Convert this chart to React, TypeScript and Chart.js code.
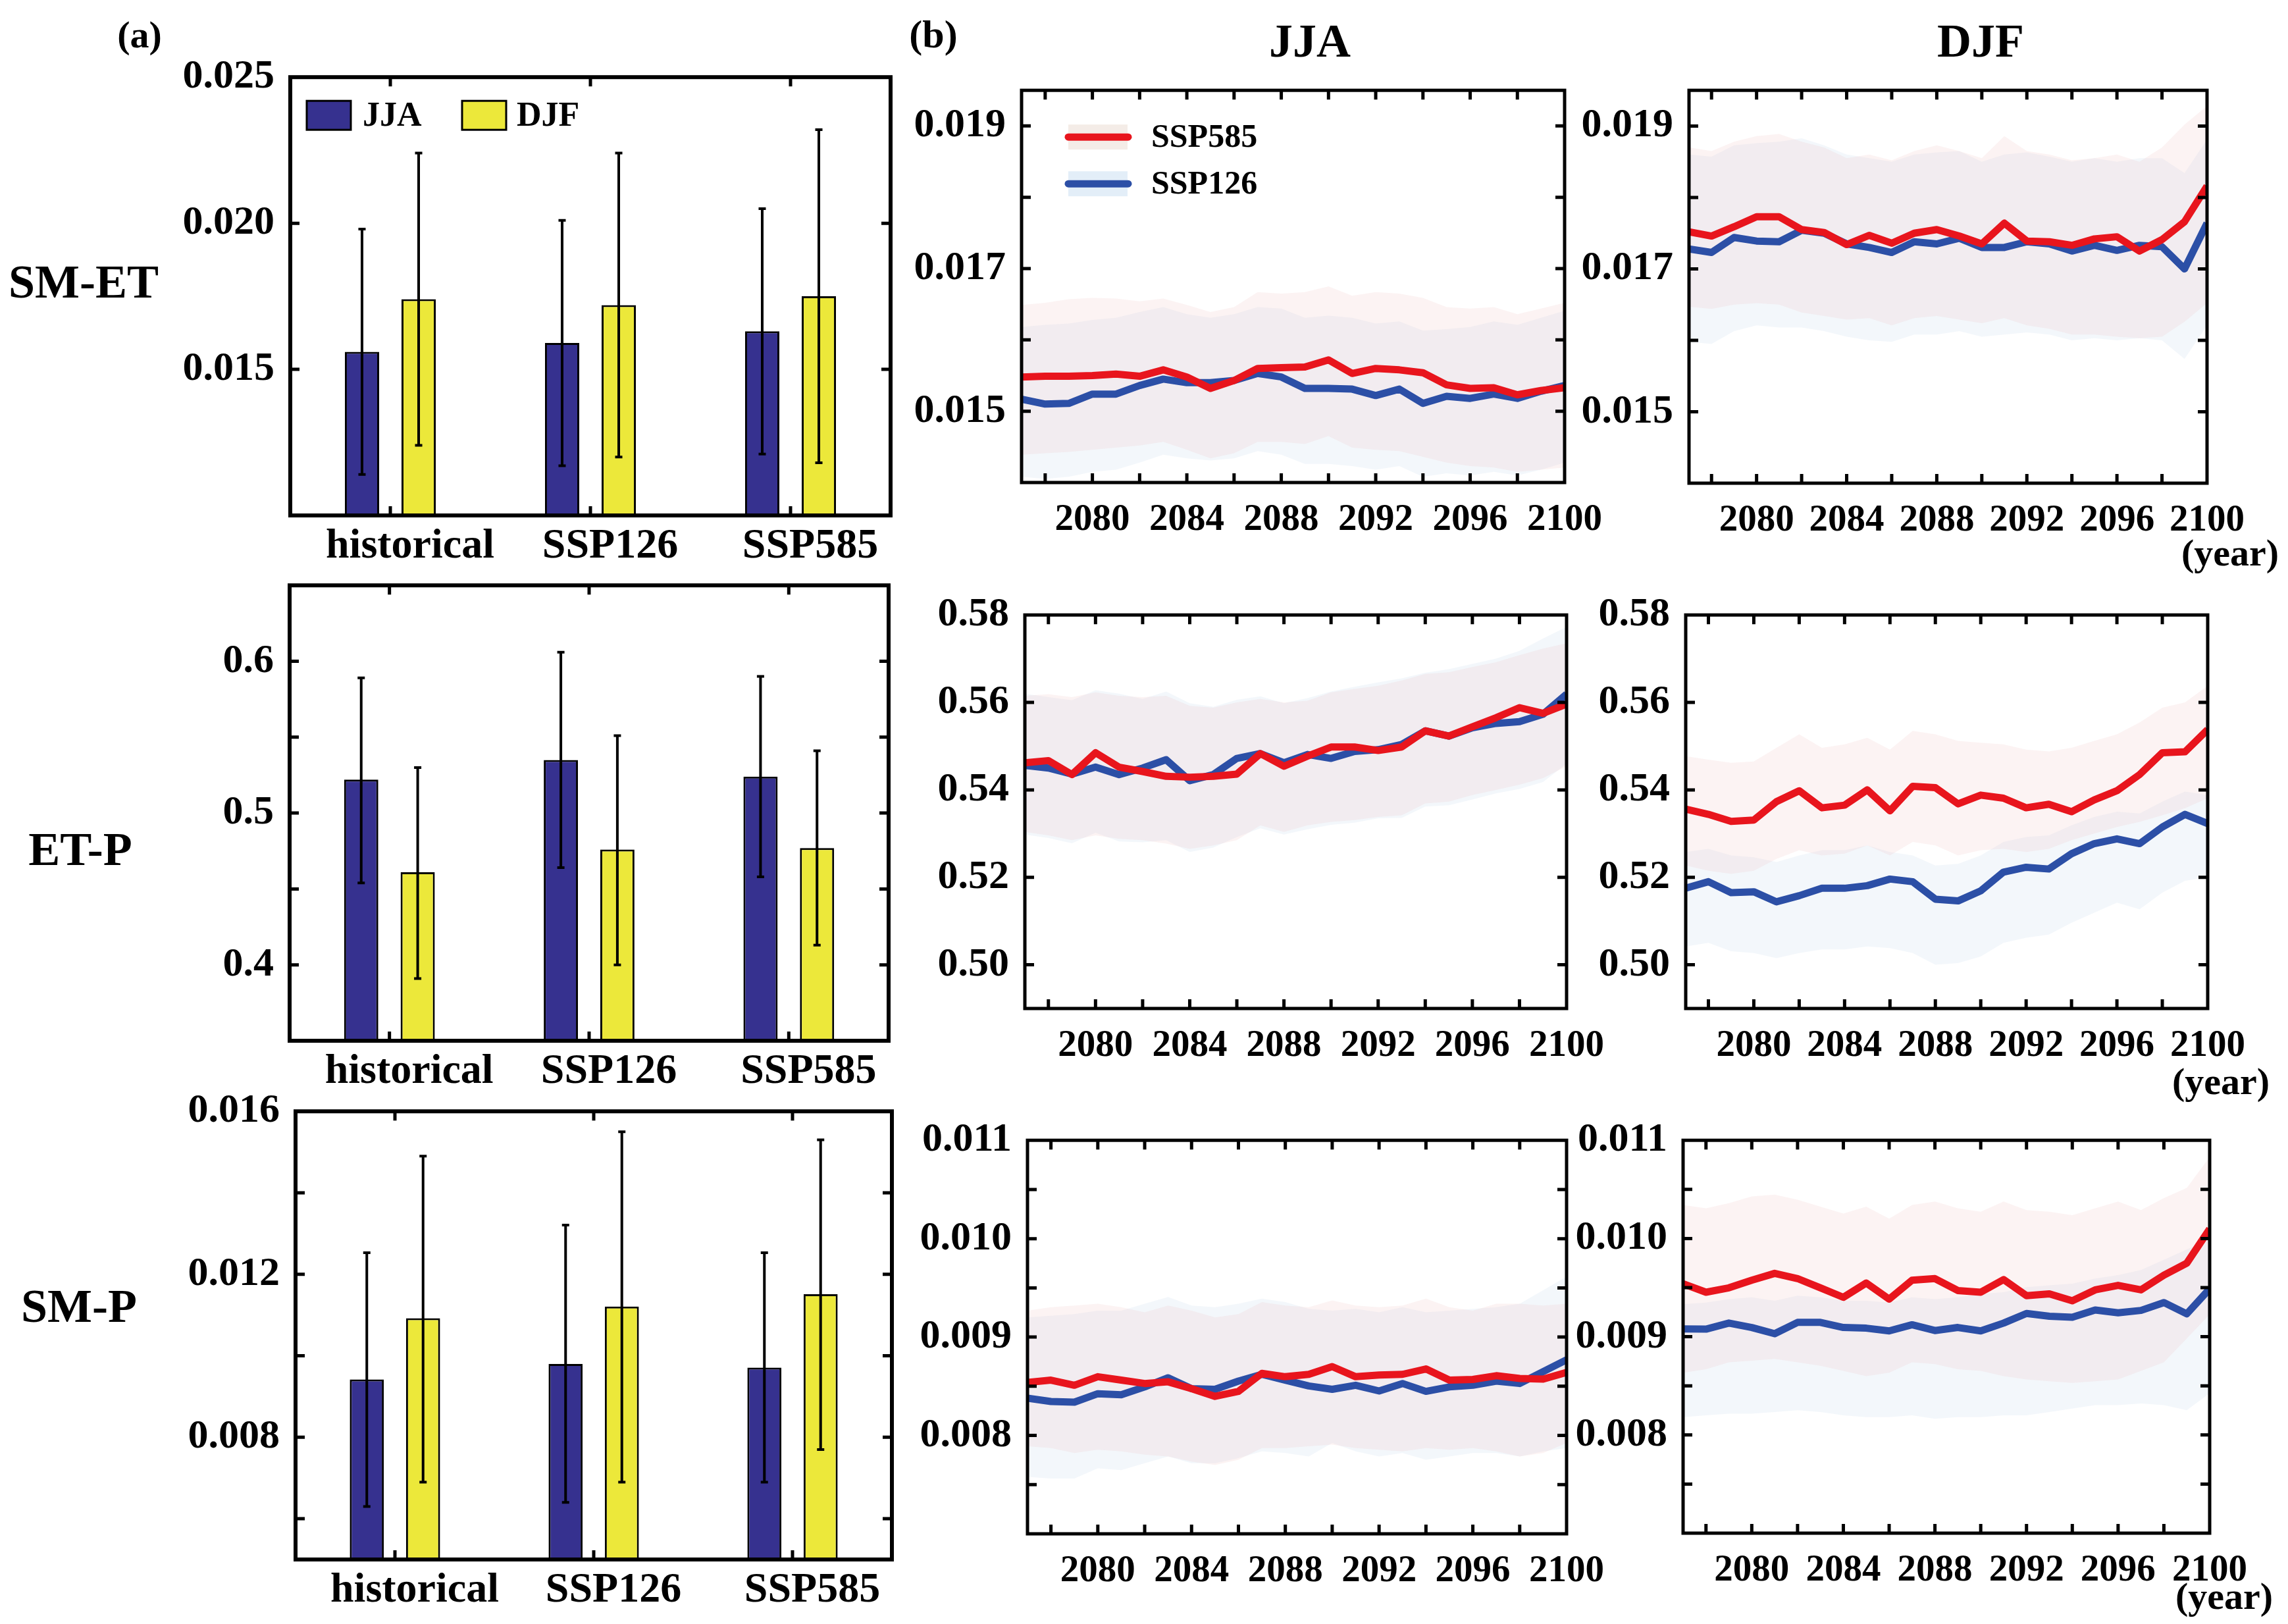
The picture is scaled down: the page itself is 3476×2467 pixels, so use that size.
import React, { useEffect, useRef } from 'react';
import { Chart, registerables } from 'chart.js';

Chart.register(...registerables);

const FONT = "'Liberation Serif', 'Times New Roman', Times, serif";
const AXW = 300;
const PT = 60;
const PR = 110;
const AXH = 130;

// ---------------- Data: panel (a) ----------------
const CATEGORIES = ['historical', 'SSP126', 'SSP585'];

const SMET_JJA = [0.0156, 0.0159, 0.0163];
const SMET_DJF = [0.0174, 0.0172, 0.0175];
const SMET_JJA_LOW = [0.0114, 0.0117, 0.0121];
const SMET_JJA_HIGH = [0.0198, 0.0201, 0.0205];
const SMET_DJF_LOW = [0.0124, 0.0120, 0.0118];
const SMET_DJF_HIGH = [0.0224, 0.0224, 0.0232];

const ETP_JJA = [0.522, 0.535, 0.524];
const ETP_DJF = [0.461, 0.476, 0.477];
const ETP_JJA_LOW = [0.454, 0.464, 0.458];
const ETP_JJA_HIGH = [0.589, 0.606, 0.590];
const ETP_DJF_LOW = [0.391, 0.400, 0.413];
const ETP_DJF_HIGH = [0.530, 0.551, 0.541];

const SMP_JJA = [0.00942, 0.0098, 0.00971];
const SMP_DJF = [0.01092, 0.01121, 0.01151];
const SMP_JJA_LOW = [0.0063, 0.0064, 0.0069];
const SMP_JJA_HIGH = [0.01253, 0.01321, 0.01253];
const SMP_DJF_LOW = [0.0069, 0.0069, 0.0077];
const SMP_DJF_HIGH = [0.0149, 0.0155, 0.0153];

// ---------------- Data: panel (b) ----------------
const YEARS = [2077, 2078, 2079, 2080, 2081, 2082, 2083, 2084, 2085, 2086, 2087, 2088,
  2089, 2090, 2091, 2092, 2093, 2094, 2095, 2096, 2097, 2098, 2099, 2100];
const YEAR_TICKS = [2078, 2080, 2082, 2084, 2086, 2088, 2090, 2092, 2094, 2096, 2098, 2100];
const YEAR_LABELS = [2080, 2084, 2088, 2092, 2096, 2100];

// SM-ET, JJA
const SMET_JJA_585 = [0.01548, 0.01549, 0.01549, 0.01550, 0.01552, 0.01549, 0.01558, 0.01548, 0.01532, 0.01543, 0.01560, 0.01561, 0.01562, 0.01572, 0.01553, 0.01560, 0.01558, 0.01554, 0.01537, 0.01532, 0.01533, 0.01523, 0.01529, 0.01533];
const SMET_JJA_126 = [0.01517, 0.01510, 0.01511, 0.01524, 0.01524, 0.01536, 0.01545, 0.01540, 0.01540, 0.01543, 0.01553, 0.01548, 0.01532, 0.01532, 0.01531, 0.01522, 0.01531, 0.01511, 0.01521, 0.01518, 0.01524, 0.01518, 0.01528, 0.01536];
const SMET_JJA_585_UP = [0.01649, 0.01652, 0.01657, 0.01659, 0.01658, 0.01654, 0.01658, 0.01649, 0.01639, 0.01646, 0.01667, 0.01665, 0.01667, 0.01675, 0.01662, 0.01667, 0.01665, 0.01659, 0.01646, 0.01644, 0.01646, 0.01636, 0.01644, 0.01652];
const SMET_JJA_585_LO = [0.01439, 0.01441, 0.01443, 0.01446, 0.01449, 0.01452, 0.01457, 0.01446, 0.01434, 0.01441, 0.01457, 0.01457, 0.01454, 0.01465, 0.01449, 0.01446, 0.01444, 0.01436, 0.01428, 0.01423, 0.01421, 0.01415, 0.01418, 0.01421];
const SMET_JJA_126_UP = [0.01618, 0.01621, 0.01623, 0.01628, 0.01631, 0.01639, 0.01646, 0.01636, 0.01631, 0.01636, 0.01646, 0.01644, 0.01631, 0.01634, 0.01631, 0.01623, 0.01626, 0.01613, 0.01615, 0.01618, 0.01626, 0.01621, 0.01631, 0.01641];
const SMET_JJA_126_LO = [0.01408, 0.01405, 0.01408, 0.01415, 0.01418, 0.01428, 0.01439, 0.01434, 0.01431, 0.01434, 0.01444, 0.01439, 0.01426, 0.01426, 0.01423, 0.01418, 0.01423, 0.01408, 0.01413, 0.01410, 0.01415, 0.01410, 0.01418, 0.01428];

// SM-ET, DJF
const SMET_DJF_585 = [0.01752, 0.01746, 0.01759, 0.01773, 0.01773, 0.01755, 0.01751, 0.01734, 0.01747, 0.01736, 0.01750, 0.01755, 0.01746, 0.01735, 0.01764, 0.01739, 0.01738, 0.01733, 0.01742, 0.01745, 0.01725, 0.01741, 0.01766, 0.01816];
const SMET_DJF_126 = [0.01728, 0.01723, 0.01744, 0.01739, 0.01738, 0.01754, 0.01750, 0.01735, 0.01730, 0.01723, 0.01738, 0.01735, 0.01743, 0.01730, 0.01730, 0.01738, 0.01735, 0.01725, 0.01733, 0.01726, 0.01733, 0.01731, 0.01700, 0.01764];
const SMET_DJF_585_UP = [0.01870, 0.01865, 0.01878, 0.01886, 0.01889, 0.01878, 0.01870, 0.01855, 0.01860, 0.01852, 0.01865, 0.01873, 0.01865, 0.01855, 0.01886, 0.01865, 0.01860, 0.01852, 0.01855, 0.01860, 0.01850, 0.01870, 0.01902, 0.01928];
const SMET_DJF_585_LO = [0.01647, 0.01644, 0.01650, 0.01652, 0.01650, 0.01639, 0.01634, 0.01629, 0.01631, 0.01621, 0.01631, 0.01634, 0.01629, 0.01624, 0.01631, 0.01621, 0.01616, 0.01608, 0.01608, 0.01605, 0.01603, 0.01605, 0.01626, 0.01652];
const SMET_DJF_126_UP = [0.01860, 0.01857, 0.01873, 0.01876, 0.01878, 0.01883, 0.01873, 0.01860, 0.01855, 0.01850, 0.01860, 0.01863, 0.01865, 0.01850, 0.01860, 0.01863, 0.01857, 0.01850, 0.01855, 0.01850, 0.01855, 0.01855, 0.01834, 0.01881];
const SMET_DJF_126_LO = [0.01598, 0.01595, 0.01613, 0.01621, 0.01618, 0.01618, 0.01613, 0.01605, 0.01600, 0.01598, 0.01608, 0.01608, 0.01613, 0.01605, 0.01608, 0.01611, 0.01608, 0.01600, 0.01603, 0.01600, 0.01603, 0.01600, 0.01574, 0.01621];

// ET-P, JJA
const ETP_JJA_585 = [0.5462, 0.5467, 0.5435, 0.5485, 0.5452, 0.5442, 0.5431, 0.5429, 0.5431, 0.5436, 0.5483, 0.5454, 0.5477, 0.5498, 0.5498, 0.5490, 0.5498, 0.5535, 0.5523, 0.5544, 0.5565, 0.5588, 0.5575, 0.5596];
const ETP_JJA_126 = [0.5456, 0.5450, 0.5436, 0.5452, 0.5435, 0.5450, 0.5469, 0.5421, 0.5435, 0.5472, 0.5483, 0.5462, 0.5481, 0.5472, 0.5488, 0.5492, 0.5504, 0.5535, 0.5523, 0.5542, 0.5552, 0.5556, 0.5573, 0.5619];
const ETP_JJA_585_UP = [0.5615, 0.5619, 0.5612, 0.5623, 0.5615, 0.5612, 0.5615, 0.5592, 0.5588, 0.5600, 0.5608, 0.5600, 0.5604, 0.5623, 0.5631, 0.5638, 0.5650, 0.5665, 0.5669, 0.5681, 0.5692, 0.5708, 0.5723, 0.5735];
const ETP_JJA_585_LO = [0.5304, 0.5296, 0.5285, 0.5296, 0.5288, 0.5285, 0.5277, 0.5265, 0.5273, 0.5285, 0.5319, 0.5304, 0.5319, 0.5327, 0.5331, 0.5338, 0.5342, 0.5369, 0.5373, 0.5388, 0.5400, 0.5412, 0.5427, 0.5454];
const ETP_JJA_126_UP = [0.5620, 0.5612, 0.5605, 0.5628, 0.5620, 0.5608, 0.5625, 0.5598, 0.5590, 0.5606, 0.5614, 0.5598, 0.5610, 0.5625, 0.5636, 0.5646, 0.5655, 0.5668, 0.5676, 0.5688, 0.5700, 0.5718, 0.5746, 0.5773];
const ETP_JJA_126_LO = [0.5298, 0.5290, 0.5278, 0.5302, 0.5282, 0.5280, 0.5285, 0.5258, 0.5268, 0.5292, 0.5312, 0.5298, 0.5310, 0.5320, 0.5325, 0.5335, 0.5336, 0.5362, 0.5365, 0.5378, 0.5392, 0.5402, 0.5418, 0.5460];

// ET-P, DJF
const ETP_DJF_585 = [0.5356, 0.5344, 0.5328, 0.5331, 0.5373, 0.5398, 0.5359, 0.5365, 0.5400, 0.5352, 0.5408, 0.5405, 0.5368, 0.5388, 0.5381, 0.5359, 0.5367, 0.5350, 0.5377, 0.5398, 0.5435, 0.5485, 0.5487, 0.5538];
const ETP_DJF_126 = [0.5175, 0.5190, 0.5165, 0.5167, 0.5144, 0.5158, 0.5175, 0.5175, 0.5181, 0.5196, 0.5190, 0.5150, 0.5146, 0.5169, 0.5212, 0.5223, 0.5219, 0.5254, 0.5277, 0.5288, 0.5277, 0.5315, 0.5344, 0.5323];
const ETP_DJF_585_UP = [0.5477, 0.5469, 0.5462, 0.5465, 0.5496, 0.5527, 0.5496, 0.5504, 0.5519, 0.5492, 0.5535, 0.5527, 0.5512, 0.5508, 0.5504, 0.5492, 0.5488, 0.5496, 0.5512, 0.5527, 0.5554, 0.5588, 0.5600, 0.5638];
const ETP_DJF_585_LO = [0.5227, 0.5215, 0.5208, 0.5215, 0.5242, 0.5262, 0.5250, 0.5254, 0.5273, 0.5250, 0.5281, 0.5273, 0.5250, 0.5262, 0.5265, 0.5258, 0.5265, 0.5285, 0.5300, 0.5315, 0.5327, 0.5342, 0.5358, 0.5381];
const ETP_DJF_126_UP = [0.5258, 0.5265, 0.5250, 0.5246, 0.5235, 0.5250, 0.5262, 0.5262, 0.5273, 0.5258, 0.5250, 0.5227, 0.5231, 0.5250, 0.5281, 0.5292, 0.5296, 0.5319, 0.5338, 0.5350, 0.5346, 0.5373, 0.5396, 0.5388];
const ETP_DJF_126_LO = [0.5042, 0.5050, 0.5031, 0.5027, 0.5015, 0.5027, 0.5035, 0.5035, 0.5042, 0.5038, 0.5027, 0.5000, 0.5004, 0.5019, 0.5050, 0.5062, 0.5069, 0.5096, 0.5119, 0.5142, 0.5127, 0.5165, 0.5192, 0.5200];

// SM-P, JJA
const SMP_JJA_585 = [0.008538, 0.008562, 0.008510, 0.008597, 0.008562, 0.008528, 0.008545, 0.008476, 0.008397, 0.008448, 0.008631, 0.008597, 0.008621, 0.008700, 0.008597, 0.008614, 0.008621, 0.008676, 0.008562, 0.008569, 0.008607, 0.008579, 0.008572, 0.008641];
const SMP_JJA_126 = [0.008379, 0.008345, 0.008338, 0.008424, 0.008414, 0.008493, 0.008586, 0.008476, 0.008469, 0.008552, 0.008621, 0.008562, 0.008503, 0.008469, 0.008510, 0.008452, 0.008528, 0.008448, 0.008493, 0.008510, 0.008552, 0.008528, 0.008648, 0.008769];
const SMP_JJA_585_UP = [0.009269, 0.009303, 0.009321, 0.009338, 0.009303, 0.009252, 0.009321, 0.009269, 0.009200, 0.009234, 0.009355, 0.009321, 0.009303, 0.009372, 0.009321, 0.009303, 0.009321, 0.009390, 0.009303, 0.009269, 0.009338, 0.009338, 0.009321, 0.009338];
const SMP_JJA_585_LO = [0.007890, 0.007872, 0.007821, 0.007855, 0.007838, 0.007804, 0.007786, 0.007735, 0.007700, 0.007752, 0.007872, 0.007872, 0.007890, 0.007907, 0.007872, 0.007855, 0.007838, 0.007872, 0.007855, 0.007872, 0.007838, 0.007786, 0.007821, 0.007924];
const SMP_JJA_126_UP = [0.009200, 0.009217, 0.009234, 0.009269, 0.009269, 0.009338, 0.009407, 0.009321, 0.009303, 0.009338, 0.009390, 0.009355, 0.009286, 0.009269, 0.009286, 0.009252, 0.009303, 0.009252, 0.009269, 0.009286, 0.009303, 0.009338, 0.009476, 0.009614];
const SMP_JJA_126_LO = [0.007579, 0.007562, 0.007562, 0.007666, 0.007648, 0.007717, 0.007786, 0.007717, 0.007717, 0.007769, 0.007838, 0.007821, 0.007786, 0.007924, 0.007838, 0.007786, 0.007821, 0.007752, 0.007786, 0.007821, 0.007821, 0.007786, 0.007838, 0.007872];

// SM-P, DJF
const SMP_DJF_585 = [0.009540, 0.009453, 0.009498, 0.009575, 0.009645, 0.009592, 0.009498, 0.009401, 0.009547, 0.009383, 0.009575, 0.009592, 0.009470, 0.009453, 0.009582, 0.009418, 0.009436, 0.009366, 0.009477, 0.009523, 0.009477, 0.009627, 0.009749, 0.010098];
const SMP_DJF_126 = [0.009080, 0.009077, 0.009139, 0.009094, 0.009031, 0.009146, 0.009146, 0.009094, 0.009087, 0.009059, 0.009122, 0.009063, 0.009094, 0.009059, 0.009139, 0.009237, 0.009209, 0.009199, 0.009272, 0.009244, 0.009268, 0.009348, 0.009233, 0.009488];
const SMP_DJF_585_UP = [0.010341, 0.010307, 0.010359, 0.010429, 0.010446, 0.010394, 0.010324, 0.010254, 0.010324, 0.010202, 0.010341, 0.010376, 0.010307, 0.010272, 0.010376, 0.010289, 0.010272, 0.010237, 0.010307, 0.010376, 0.010289, 0.010411, 0.010516, 0.010829];
const SMP_DJF_585_LO = [0.008634, 0.008669, 0.008739, 0.008756, 0.008774, 0.008739, 0.008704, 0.008652, 0.008599, 0.008634, 0.008739, 0.008721, 0.008669, 0.008652, 0.008599, 0.008565, 0.008547, 0.008530, 0.008547, 0.008565, 0.008652, 0.008739, 0.008983, 0.009227];
const SMP_DJF_126_UP = [0.009331, 0.009348, 0.009383, 0.009401, 0.009366, 0.009418, 0.009401, 0.009366, 0.009366, 0.009348, 0.009401, 0.009383, 0.009401, 0.009436, 0.009453, 0.009505, 0.009523, 0.009540, 0.009592, 0.009627, 0.009679, 0.009784, 0.009889, 0.009993];
const SMP_DJF_126_LO = [0.008181, 0.008199, 0.008216, 0.008216, 0.008234, 0.008251, 0.008234, 0.008199, 0.008181, 0.008181, 0.008199, 0.008164, 0.008181, 0.008181, 0.008199, 0.008199, 0.008234, 0.008268, 0.008303, 0.008303, 0.008321, 0.008303, 0.008251, 0.008425];

// Axis ticks
const SMET_BAR_TICKS = [0.015, 0.020, 0.025];
const ETP_BAR_TICKS = [0.40, 0.45, 0.50, 0.55, 0.60, 0.65];
const ETP_BAR_LABELS = [0.4, 0.5, 0.6];
const SMP_BAR_TICKS = [0.006, 0.008, 0.010, 0.012, 0.014, 0.016];
const SMP_BAR_LABELS = [0.008, 0.012, 0.016];
const SMET_LINE_TICKS = [0.015, 0.016, 0.017, 0.018, 0.019];
const SMET_LINE_LABELS = [0.015, 0.017, 0.019];
const ETP_LINE_TICKS = [0.50, 0.51, 0.52, 0.53, 0.54, 0.55, 0.56, 0.57, 0.58];
const ETP_LINE_LABELS = [0.50, 0.52, 0.54, 0.56, 0.58];
const SMP_LINE_TICKS = [0.0075, 0.008, 0.0085, 0.009, 0.0095, 0.010, 0.0105, 0.011];
const SMP_LINE_LABELS = [0.008, 0.009, 0.010, 0.011];

// ---------------- Styles ----------------
const JJA_COLOR = '#36318f';
const DJF_COLOR = '#ece83a';
const RED = '#e8151d';
const BLUE = '#2c4fa6';
const RED_BAND = 'rgba(232,150,150,0.11)';
const BLUE_BAND = 'rgba(150,178,222,0.11)';

const near = (arr: number[], v: number) => arr.some((a) => Math.abs(a - v) < 1e-9);

const framePlugin = {
  id: 'frame',
  afterDatasetsDraw(chart: any, _args: any, opts: any) {
    const { ctx, chartArea } = chart;
    const { left, right, top, bottom } = chartArea;
    const xs = chart.scales.x;
    const ys = chart.scales.y;
    const len = opts.tickLen;
    ctx.save();
    ctx.strokeStyle = '#000';
    ctx.lineWidth = opts.tickWidth;
    ctx.beginPath();
    xs.ticks.forEach((_t: any, i: number) => {
      const x = xs.getPixelForTick(i);
      if (x <= left + 4 || x >= right - 4) return;
      ctx.moveTo(x, bottom);
      ctx.lineTo(x, bottom - len);
      ctx.moveTo(x, top);
      ctx.lineTo(x, top + len);
    });
    ys.ticks.forEach((_t: any, i: number) => {
      const y = ys.getPixelForTick(i);
      if (y <= top + 4 || y >= bottom - 4) return;
      ctx.moveTo(left, y);
      ctx.lineTo(left + len, y);
      ctx.moveTo(right, y);
      ctx.lineTo(right - len, y);
    });
    ctx.stroke();
    ctx.lineWidth = opts.frameWidth;
    ctx.lineJoin = 'miter';
    ctx.strokeRect(left, top, right - left, bottom - top);
    ctx.restore();
  },
};

const errorBarPlugin = {
  id: 'errorBars',
  afterDatasetsDraw(chart: any, _args: any, opts: any) {
    const ys = chart.scales.y;
    const ctx = chart.ctx;
    ctx.save();
    ctx.strokeStyle = '#000';
    ctx.lineWidth = opts.width;
    opts.lows.forEach((lows: number[], di: number) => {
      const highs = opts.highs[di];
      const meta = chart.getDatasetMeta(di);
      meta.data.forEach((bar: any, j: number) => {
        const x = bar.x;
        const y1 = ys.getPixelForValue(lows[j]);
        const y2 = ys.getPixelForValue(highs[j]);
        const c = opts.cap / 2;
        ctx.beginPath();
        ctx.moveTo(x, y1);
        ctx.lineTo(x, y2);
        ctx.moveTo(x - c, y1);
        ctx.lineTo(x + c, y1);
        ctx.moveTo(x - c, y2);
        ctx.lineTo(x + c, y2);
        ctx.stroke();
      });
    });
    ctx.restore();
  },
};

const barLegendPlugin = {
  id: 'barLegend',
  afterDraw(chart: any, _args: any, opts: any) {
    const { ctx, chartArea } = chart;
    const { left, top } = chartArea;
    ctx.save();
    ctx.font = `bold ${opts.size}px ${FONT}`;
    ctx.textBaseline = 'middle';
    ctx.textAlign = 'left';
    chart.data.datasets.forEach((ds: any, i: number) => {
      const x = left + opts.boxX[i];
      const y = top + opts.boxY;
      ctx.fillStyle = ds.backgroundColor;
      ctx.fillRect(x, y, opts.boxW, opts.boxH);
      ctx.lineWidth = 3;
      ctx.strokeStyle = '#000';
      ctx.strokeRect(x, y, opts.boxW, opts.boxH);
      ctx.fillStyle = '#000';
      ctx.fillText(ds.label, left + opts.textX[i], y + opts.boxH / 2 + 2);
    });
    ctx.restore();
  },
};

const lineLegendPlugin = {
  id: 'lineLegend',
  afterDraw(chart: any, _args: any, opts: any) {
    const { ctx, chartArea } = chart;
    const { left, top } = chartArea;
    ctx.save();
    ctx.font = `bold ${opts.size}px ${FONT}`;
    ctx.textBaseline = 'middle';
    ctx.textAlign = 'left';
    [0, 1].forEach((i) => {
      const ds = chart.data.datasets[i];
      const cy = top + opts.rowY[i];
      ctx.fillStyle = opts.bandColors[i];
      ctx.fillRect(left + opts.bandX0, cy - opts.bandH / 2, opts.bandX1 - opts.bandX0, opts.bandH);
      ctx.strokeStyle = ds.borderColor;
      ctx.lineWidth = 11;
      ctx.lineCap = 'round';
      ctx.beginPath();
      ctx.moveTo(left + opts.lineX0, cy);
      ctx.lineTo(left + opts.lineX1, cy);
      ctx.stroke();
      ctx.fillStyle = '#000';
      ctx.fillText(ds.label, left + opts.textX, cy + 2);
    });
    ctx.restore();
  },
};

function yScale(min: number, max: number, ticks: number[], labels: number[], dec: number, pad: number, size: number) {
  return {
    type: 'linear',
    min,
    max,
    afterBuildTicks: (s: any) => {
      s.ticks = ticks.map((v) => ({ value: v }));
    },
    afterFit: (s: any) => {
      s.width = AXW;
    },
    grid: { display: false, drawTicks: false },
    border: { display: false },
    ticks: {
      padding: pad,
      color: '#000',
      font: { family: FONT, weight: 'bold', size },
      callback: (v: any) => (near(labels, Number(v)) ? Number(v).toFixed(dec) : ''),
    },
  };
}

function barConfig(
  jja: number[], djf: number[], jLo: number[], jHi: number[], dLo: number[], dHi: number[],
  yMin: number, yMax: number, ticks: number[], labels: number[], dec: number, legend: boolean,
) {
  return {
    type: 'bar',
    data: {
      labels: CATEGORIES,
      datasets: [
        { label: 'JJA', data: jja, backgroundColor: JJA_COLOR, borderColor: '#000', borderWidth: 3, barPercentage: 0.605, categoryPercentage: 0.566 },
        { label: 'DJF', data: djf, backgroundColor: DJF_COLOR, borderColor: '#000', borderWidth: 3, barPercentage: 0.605, categoryPercentage: 0.566 },
      ],
    },
    options: {
      responsive: false,
      animation: false,
      layout: { padding: { top: PT, right: PR, left: 0, bottom: 0 } },
      plugins: {
        legend: { display: false },
        tooltip: { enabled: false },
        frame: { tickLen: 14, tickWidth: 5, frameWidth: 6 },
        errorBars: { lows: [jLo, dLo], highs: [jHi, dHi], cap: 11, width: 4 },
        barLegend: legend
          ? { size: 52, boxX: [25, 261], boxY: 36, boxW: 67, boxH: 44, textX: [110, 344] }
          : false,
      },
      scales: {
        x: {
          type: 'category',
          offset: true,
          afterFit: (s: any) => {
            s.height = AXH;
          },
          grid: { display: false, drawTicks: false },
          border: { display: false },
          ticks: {
            padding: 9,
            labelOffset: 30,
            autoSkip: false,
            maxRotation: 0,
            color: '#000',
            font: { family: FONT, weight: 'bold', size: 64 },
          },
        },
        y: yScale(yMin, yMax, ticks, labels, dec, 24, 62),
      },
    },
    plugins: [framePlugin, errorBarPlugin, barLegendPlugin],
  };
}

const pts = (arr: number[]) => YEARS.map((x, i) => ({ x, y: arr[i] }));

function lineConfig(
  r: number[], b: number[], rUp: number[], rLo: number[], bUp: number[], bLo: number[],
  yMin: number, yMax: number, ticks: number[], labels: number[], dec: number, legend: boolean,
) {
  const band = (data: number[], fill: any, color: string) => ({
    label: '',
    data: pts(data),
    borderWidth: 0,
    pointRadius: 0,
    borderColor: 'rgba(0,0,0,0)',
    backgroundColor: color,
    fill,
  });
  return {
    type: 'line',
    data: {
      datasets: [
        { label: 'SSP585', data: pts(r), borderColor: RED, borderWidth: 11, pointRadius: 0, fill: false, borderJoinStyle: 'round', clip: 0 },
        { label: 'SSP126', data: pts(b), borderColor: BLUE, borderWidth: 11, pointRadius: 0, fill: false, borderJoinStyle: 'round', clip: 0 },
        band(rUp, '+1', RED_BAND),
        band(rLo, false, 'rgba(0,0,0,0)'),
        band(bUp, '+1', BLUE_BAND),
        band(bLo, false, 'rgba(0,0,0,0)'),
      ],
    },
    options: {
      responsive: false,
      animation: false,
      layout: { padding: { top: PT, right: PR, left: 0, bottom: 0 } },
      plugins: {
        legend: { display: false },
        tooltip: { enabled: false },
        filler: { propagate: false },
        frame: { tickLen: 14, tickWidth: 5, frameWidth: 5 },
        lineLegend: legend
          ? {
            size: 50,
            rowY: [71, 142],
            bandX0: 71,
            bandX1: 161,
            bandH: 38,
            lineX0: 71,
            lineX1: 162,
            textX: 197,
            bandColors: ['#f4ece7', '#e3eef8'],
          }
          : false,
      },
      scales: {
        x: {
          type: 'linear',
          min: 2077,
          max: 2100,
          afterBuildTicks: (s: any) => {
            s.ticks = YEAR_TICKS.map((v) => ({ value: v }));
          },
          afterFit: (s: any) => {
            s.height = AXH;
          },
          grid: { display: false, drawTicks: false },
          border: { display: false },
          ticks: {
            padding: 23,
            autoSkip: false,
            maxRotation: 0,
            color: '#000',
            font: { family: FONT, weight: 'bold', size: 57 },
            callback: (v: any) => (YEAR_LABELS.includes(Number(v)) ? String(v) : ''),
          },
        },
        y: yScale(yMin, yMax, ticks, labels, dec, 24, 62),
      },
    },
    plugins: [framePlugin, lineLegendPlugin],
  };
}

type Box = { L: number; T: number; W: number; H: number };

function ChartBox({ box, make }: { box: Box; make: () => any }) {
  const ref = useRef<HTMLCanvasElement | null>(null);
  useEffect(() => {
    const chart = new Chart(ref.current as HTMLCanvasElement, make());
    return () => chart.destroy();
  }, []);
  const w = box.W + AXW + PR;
  const h = box.H + PT + AXH;
  return (
    <div style={{ position: 'absolute', left: box.L - AXW, top: box.T - PT, width: w, height: h }}>
      <canvas ref={ref} width={w} height={h} style={{ width: w, height: h, display: 'block' }} />
    </div>
  );
}

function Label({ text, x, y, size }: { text: string; x: number; y: number; size: number }) {
  return (
    <div
      style={{
        position: 'absolute',
        left: x,
        top: y,
        transform: 'translate(-50%, -50%)',
        fontFamily: FONT,
        fontWeight: 'bold',
        fontSize: size,
        lineHeight: 1,
        whiteSpace: 'nowrap',
        color: '#000',
      }}
    >
      {text}
    </div>
  );
}

export default function App() {
  return (
    <div style={{ position: 'absolute', left: 0, top: 0, width: 3476, height: 2467, background: '#fff', overflow: 'hidden' }}>
      <ChartBox box={{ L: 441, T: 116, W: 912, H: 667 }}
        make={() => barConfig(SMET_JJA, SMET_DJF, SMET_JJA_LOW, SMET_JJA_HIGH, SMET_DJF_LOW, SMET_DJF_HIGH, 0.010, 0.025, SMET_BAR_TICKS, SMET_BAR_TICKS, 3, true)} />
      <ChartBox box={{ L: 440, T: 888, W: 910, H: 693 }}
        make={() => barConfig(ETP_JJA, ETP_DJF, ETP_JJA_LOW, ETP_JJA_HIGH, ETP_DJF_LOW, ETP_DJF_HIGH, 0.35, 0.65, ETP_BAR_TICKS, ETP_BAR_LABELS, 1, false)} />
      <ChartBox box={{ L: 449, T: 1687, W: 906, H: 682 }}
        make={() => barConfig(SMP_JJA, SMP_DJF, SMP_JJA_LOW, SMP_JJA_HIGH, SMP_DJF_LOW, SMP_DJF_HIGH, 0.005, 0.016, SMP_BAR_TICKS, SMP_BAR_LABELS, 3, false)} />

      <ChartBox box={{ L: 1552, T: 136, W: 825, H: 597 }}
        make={() => lineConfig(SMET_JJA_585, SMET_JJA_126, SMET_JJA_585_UP, SMET_JJA_585_LO, SMET_JJA_126_UP, SMET_JJA_126_LO, 0.014, 0.0195, SMET_LINE_TICKS, SMET_LINE_LABELS, 3, true)} />
      <ChartBox box={{ L: 2566, T: 136, W: 787, H: 598 }}
        make={() => lineConfig(SMET_DJF_585, SMET_DJF_126, SMET_DJF_585_UP, SMET_DJF_585_LO, SMET_DJF_126_UP, SMET_DJF_126_LO, 0.014, 0.0195, SMET_LINE_TICKS, SMET_LINE_LABELS, 3, false)} />
      <ChartBox box={{ L: 1557, T: 933, W: 823, H: 599 }}
        make={() => lineConfig(ETP_JJA_585, ETP_JJA_126, ETP_JJA_585_UP, ETP_JJA_585_LO, ETP_JJA_126_UP, ETP_JJA_126_LO, 0.49, 0.58, ETP_LINE_TICKS, ETP_LINE_LABELS, 2, false)} />
      <ChartBox box={{ L: 2561, T: 933, W: 793, H: 599 }}
        make={() => lineConfig(ETP_DJF_585, ETP_DJF_126, ETP_DJF_585_UP, ETP_DJF_585_LO, ETP_DJF_126_UP, ETP_DJF_126_LO, 0.49, 0.58, ETP_LINE_TICKS, ETP_LINE_LABELS, 2, false)} />
      <ChartBox box={{ L: 1561, T: 1731, W: 819, H: 599 }}
        make={() => lineConfig(SMP_JJA_585, SMP_JJA_126, SMP_JJA_585_UP, SMP_JJA_585_LO, SMP_JJA_126_UP, SMP_JJA_126_LO, 0.007, 0.011, SMP_LINE_TICKS, SMP_LINE_LABELS, 3, false)} />
      <ChartBox box={{ L: 2557, T: 1731, W: 800, H: 598 }}
        make={() => lineConfig(SMP_DJF_585, SMP_DJF_126, SMP_DJF_585_UP, SMP_DJF_585_LO, SMP_DJF_126_UP, SMP_DJF_126_LO, 0.007, 0.011, SMP_LINE_TICKS, SMP_LINE_LABELS, 3, false)} />

      <Label text="(a)" x={212} y={53} size={58} />
      <Label text="(b)" x={1418} y={52} size={60} />
      <Label text="JJA" x={1990} y={62} size={72} />
      <Label text="DJF" x={3009} y={62} size={72} />
      <Label text="SM-ET" x={127} y={428} size={72} />
      <Label text="ET-P" x={122} y={1290} size={72} />
      <Label text="SM-P" x={120} y={1984} size={72} />
      <Label text="(year)" x={3388} y={840} size={58} />
      <Label text="(year)" x={3374} y={1643} size={58} />
      <Label text="(year)" x={3379} y={2425} size={58} />
    </div>
  );
}
